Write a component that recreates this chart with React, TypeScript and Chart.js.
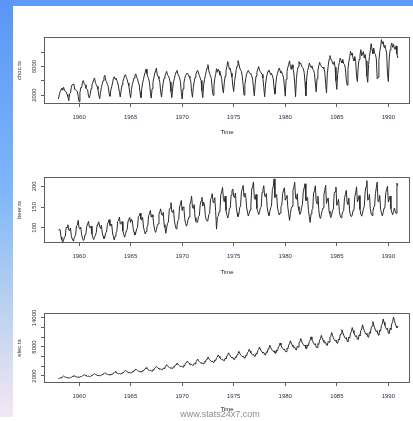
import React, { useEffect, useRef } from 'react';
import { Chart, registerables } from 'chart.js';

Chart.register(...registerables);

// ---- data -----------------------------------------------------------
const START_YEAR = 1958;
const PER_YEAR = 12;
const X_MIN = 1956.6;
const X_MAX = 1992.1;
const YEAR_TICKS = [1960, 1965, 1970, 1975, 1980, 1985, 1990];

const CHOC_TICKS = [2000, 4000, 6000, 8000];
const CHOC_TICK_LABELS = ['2000', '', '6000', ''];
const BEER_TICKS = [100, 150, 200];
const BEER_TICK_LABELS = ['100', '150', '200'];
const ELEC_TICKS = [2000, 4000, 6000, 8000, 10000, 12000, 14000];
const ELEC_TICK_LABELS = ['2000', '', '', '8000', '', '', '14000'];

const CHOC = [
  1451, 2037, 2477, 2785, 2994, 2681, 3098, 2708, 2517, 2445, 2087, 1801,
  1216, 2173, 2286, 3121, 3458, 3511, 3524, 2767, 2744, 2603, 2527, 1846,
  1066, 2327, 3066, 3048, 3806, 4042, 3583, 3438, 2957, 2885, 2744, 1837,
  1596, 2104, 2919, 3469, 3717, 4181, 4406, 3773, 3463, 3237, 2826, 2001,
  1490, 2388, 3031, 3586, 4020, 4510, 4780, 4082, 3855, 3489, 3225, 2202,
  1839, 2718, 3162, 3698, 4348, 4573, 4241, 4367, 4063, 3715, 3133, 2371,
  1728, 2668, 3410, 3878, 4280, 4725, 4862, 4447, 4190, 3688, 3312, 2352,
  1617, 2780, 3471, 3921, 4392, 4775, 4985, 4518, 4286, 3818, 3411, 2389,
  1649, 2937, 3715, 4230, 4789, 5212, 5651, 5001, 4581, 4287, 3721, 2412,
  1583, 2896, 3777, 4375, 4991, 5389, 5798, 4826, 4609, 4329, 3819, 2450,
  1725, 2914, 3728, 4373, 4713, 5052, 5327, 4787, 4688, 4373, 3833, 2502,
  1650, 2980, 3870, 4360, 4890, 5240, 5460, 4980, 4700, 4430, 3870, 2400,
  1450, 2880, 3680, 4300, 4770, 4950, 5100, 4900, 4650, 4350, 3950, 2500,
  1700, 3080, 3850, 4480, 4930, 5280, 5500, 5100, 4750, 4400, 4050, 2600,
  1650, 3400, 4150, 4750, 5300, 5800, 6270, 5450, 5000, 4700, 4300, 2900,
  1980, 3350, 4350, 4900, 5700, 5200, 5650, 5350, 4800, 4850, 4300, 3000,
  2300, 3700, 4650, 5450, 5900, 6700, 6300, 5600, 5750, 5100, 4550, 3300,
  2500, 3900, 4700, 5600, 6100, 6830, 6400, 5800, 5500, 5350, 4600, 3400,
  2000, 3500, 4300, 4900, 5300, 5460, 5150, 5050, 4950, 4700, 4250, 3000,
  1900, 3600, 4650, 5200, 5600, 6000, 5500, 5300, 5100, 4900, 4400, 3100,
  1760, 3400, 4400, 4950, 5350, 5500, 5200, 4850, 5050, 4700, 4300, 3000,
  2140, 3600, 4600, 5050, 5500, 5800, 5400, 5100, 5200, 4850, 4450, 3200,
  1850, 4200, 5300, 5900, 6300, 6800, 6000, 5600, 6250, 5750, 5100, 3700,
  1760, 4300, 5400, 5950, 6700, 6350, 6500, 6050, 5900, 5700, 5200, 3800,
  1900, 4400, 5450, 5800, 6500, 6200, 5900, 6100, 5600, 5500, 5050, 3700,
  2460, 4300, 5400, 6100, 6600, 6250, 6050, 5850, 5900, 5700, 5250, 3600,
  2300, 5000, 6100, 7000, 7540, 7100, 6900, 6400, 6300, 6700, 5900, 4000,
  2800, 4900, 6000, 6600, 7200, 6800, 6500, 7000, 6400, 6300, 5700, 4200,
  3400, 5600, 6700, 7300, 8140, 7600, 7900, 7100, 6800, 7400, 6700, 4600,
  3900, 6100, 7000, 7600, 8380, 7500, 7900, 8100, 7200, 7700, 6800, 4700,
  3800, 6300, 7400, 8200, 9220, 8400, 7800, 8600, 7900, 7700, 7100, 4300,
  4500, 6900, 8100, 8800, 9780, 9200, 9500, 8700, 9000, 8400, 7900, 5000,
  3900, 7100, 8300, 8900, 9300, 8700, 9100, 8600, 8400, 8900, 7800, 7200,
];

const BEER = [
  93.2, 96.0, 95.2, 77.1, 70.9, 64.8, 70.1, 77.3, 79.5, 100.6, 100.7, 107.1,
  94.1, 92.8, 99.5, 80.4, 73.0, 68.3, 74.2, 78.6, 82.7, 104.5, 106.2, 117.8,
  99.1, 97.5, 101.3, 83.2, 74.6, 69.1, 71.9, 83.5, 86.4, 103.7, 108.9, 115.2,
  101.2, 99.6, 104.0, 84.5, 76.9, 71.3, 76.8, 81.2, 88.0, 106.4, 110.7, 114.3,
  102.8, 98.3, 106.1, 86.9, 79.3, 73.4, 77.0, 87.6, 89.2, 108.1, 113.5, 119.4,
  105.6, 104.2, 108.7, 87.1, 78.0, 70.2, 79.5, 88.9, 90.6, 115.3, 117.8, 125.8,
  108.4, 110.9, 114.6, 92.3, 84.1, 77.0, 83.5, 92.1, 95.7, 116.4, 121.6, 124.8,
  112.7, 120.3, 116.2, 97.8, 89.1, 82.4, 87.2, 96.9, 99.8, 126.7, 128.4, 134.9,
  120.4, 118.6, 124.7, 101.3, 92.8, 84.9, 90.6, 101.7, 104.3, 129.9, 133.2, 141.8,
  125.6, 131.2, 125.9, 106.4, 95.1, 88.7, 94.8, 105.2, 109.3, 132.5, 138.7, 145.6,
  131.4, 129.8, 136.9, 107.3, 100.2, 86.5, 99.7, 110.5, 113.6, 143.2, 147.8, 160.4,
  138.2, 136.7, 143.5, 115.8, 105.6, 97.2, 104.4, 116.9, 119.3, 150.1, 156.6, 165.8,
  141.5, 150.3, 148.2, 121.6, 110.7, 103.5, 109.9, 120.3, 125.8, 156.4, 162.7, 176.2,
  149.5, 146.2, 155.8, 124.1, 115.3, 112.6, 113.4, 126.8, 128.4, 155.3, 164.9, 173.5,
  152.1, 161.7, 154.9, 129.3, 119.2, 116.3, 118.7, 131.6, 133.8, 168.2, 172.4, 182.3,
  160.8, 165.4, 172.6, 139.2, 96.5, 125.7, 127.6, 138.3, 142.7, 180.1, 186.2, 197.3,
  170.3, 162.8, 176.4, 142.1, 131.5, 123.4, 129.7, 145.2, 147.8, 178.6, 189.1, 193.4,
  176.2, 172.1, 183.5, 149.7, 135.2, 126.8, 133.0, 148.3, 152.6, 186.9, 194.3, 202.1,
  174.8, 183.6, 177.4, 150.2, 137.9, 128.1, 134.6, 142.5, 155.3, 193.7, 199.1, 210.4,
  171.5, 168.2, 180.4, 146.3, 139.6, 131.7, 136.4, 147.9, 149.8, 185.3, 192.6, 201.5,
  176.8, 174.3, 182.5, 148.6, 136.1, 129.4, 138.2, 148.5, 152.9, 192.4, 198.6, 217.9,
  173.2, 175.7, 180.1, 147.4, 139.3, 130.6, 135.5, 151.2, 154.7, 182.4, 190.8, 196.3,
  166.4, 171.9, 178.2, 149.3, 133.8, 117.6, 134.1, 146.5, 151.3, 190.2, 196.7, 209.8,
  172.1, 168.6, 182.0, 150.9, 141.7, 132.2, 135.6, 149.1, 156.4, 188.3, 196.1, 206.2,
  165.3, 170.8, 173.4, 141.2, 126.9, 112.7, 133.5, 142.8, 145.9, 183.6, 189.4, 201.3,
  164.9, 157.6, 176.2, 143.8, 126.5, 122.4, 131.7, 141.3, 147.7, 178.8, 190.5, 202.6,
  158.4, 167.3, 171.8, 139.6, 133.2, 124.5, 130.3, 142.6, 144.1, 183.4, 187.2, 198.2,
  153.9, 160.6, 168.5, 138.7, 128.3, 124.1, 131.2, 138.5, 141.9, 172.6, 180.4, 190.3,
  159.7, 156.4, 171.6, 137.9, 130.5, 126.7, 130.8, 141.7, 143.4, 176.2, 183.9, 198.6,
  162.3, 167.9, 177.5, 144.3, 132.6, 127.8, 135.2, 145.7, 151.6, 186.3, 199.4, 213.8,
  166.5, 168.3, 180.6, 146.2, 133.1, 129.5, 139.3, 149.6, 152.3, 182.7, 196.8, 210.4,
  163.2, 165.7, 177.9, 143.6, 135.8, 128.4, 136.7, 147.3, 149.5, 184.6, 192.5, 200.2,
  161.8, 169.3, 176.4, 145.7, 137.2, 131.5, 138.6, 147.4, 139.8, 134.6, 207.5, 201.3,
];

const ELEC = [
  1497, 1463, 1648, 1595, 1777, 1824, 1994, 1835, 1787, 1699, 1633, 1645,
  1590, 1570, 1745, 1700, 1890, 1930, 2090, 1975, 1880, 1815, 1750, 1795,
  1750, 1735, 1905, 1875, 2065, 2130, 2290, 2165, 2075, 1985, 1935, 1975,
  1890, 1870, 2060, 2025, 2240, 2300, 2470, 2345, 2235, 2150, 2085, 2130,
  2050, 2030, 2235, 2190, 2425, 2495, 2680, 2540, 2425, 2330, 2260, 2305,
  2215, 2195, 2420, 2370, 2620, 2700, 2900, 2745, 2620, 2520, 2445, 2495,
  2430, 2400, 2650, 2595, 2870, 2955, 3175, 3010, 2870, 2760, 2675, 2730,
  2645, 2605, 2885, 2815, 3125, 3205, 3455, 3265, 3120, 3005, 2905, 2975,
  2850, 2820, 3110, 3045, 3370, 3465, 3725, 3530, 3370, 3240, 3145, 3210,
  3060, 3030, 3340, 3270, 3620, 3725, 4000, 3795, 3620, 3480, 3375, 3445,
  3310, 3270, 3610, 3535, 3910, 4025, 4325, 4100, 3910, 3760, 3645, 3720,
  3590, 3550, 3915, 3835, 4245, 4365, 4690, 4445, 4245, 4080, 3960, 4040,
  3900, 3855, 4255, 4165, 4605, 4740, 5095, 4830, 4605, 4430, 4295, 4385,
  4205, 4160, 4590, 4495, 4970, 5115, 5500, 5210, 4970, 4780, 4635, 4730,
  4530, 4480, 4945, 4840, 5355, 5510, 5925, 5615, 5355, 5150, 4995, 5100,
  4865, 4810, 5310, 5200, 5750, 5915, 6360, 6030, 5750, 5530, 5365, 5475,
  5190, 5135, 5665, 5545, 6135, 6315, 6785, 6430, 6135, 5900, 5725, 5840,
  5440, 5375, 5935, 5810, 6430, 6610, 7105, 6735, 6430, 6180, 5995, 6120,
  5765, 5700, 6290, 6155, 6810, 7010, 7535, 7140, 6810, 6550, 6355, 6485,
  6115, 6045, 6670, 6535, 7230, 7435, 7990, 7575, 7230, 6950, 6740, 6880,
  6405, 6335, 6990, 6845, 7570, 7790, 8370, 7935, 7570, 7280, 7060, 7205,
  6760, 6680, 7375, 7220, 7985, 8220, 8830, 8370, 7985, 7680, 7450, 7605,
  7110, 7030, 7755, 7595, 8405, 8645, 9290, 8805, 8405, 8080, 7840, 8000,
  7460, 7380, 8140, 7970, 8820, 9075, 9750, 9245, 8820, 8480, 8225, 8395,
  7725, 7640, 8430, 8255, 9130, 9395, 10095, 9570, 9130, 8780, 8515, 8690,
  7965, 7875, 8690, 8505, 9410, 9685, 10405, 9865, 9410, 9050, 8780, 8960,
  8405, 8310, 9170, 8975, 9930, 10220, 10980, 10410, 9930, 9550, 9265, 9455,
  8845, 8745, 9650, 9445, 10450, 10755, 11560, 10955, 10450, 10050, 9750, 9950,
  9195, 9090, 10030, 9825, 10870, 11180, 12020, 11390, 10870, 10450, 10135, 10345,
  9635, 9525, 10510, 10295, 11390, 11715, 12590, 11935, 11390, 10950, 10620, 10840,
  10120, 10005, 11040, 10810, 11960, 12305, 13225, 12535, 11960, 11500, 11155, 11385,
  10560, 10440, 11520, 11280, 12480, 12840, 13800, 13080, 12480, 12000, 11640, 11880,
  10870, 10745, 11855, 11610, 12845, 13215, 14205, 13460, 12845, 12350, 11980, 12225,
];

// ---- layout / style ---------------------------------------------------
const FONT = '"Liberation Sans", Arial, sans-serif';
const W = 413;

type Panel = {
  title: string;
  values: number[];
  ticks: number[];
  tickLabels: string[];
  yMin: number;
  yMax: number;
  top: number;
  height: number;
  padTop: number;
  padBottom: number;
  xAxisH: number;
};

const PANELS: Panel[] = [
  { title: 'choc.ts', values: CHOC, ticks: CHOC_TICKS, tickLabels: CHOC_TICK_LABELS, yMin: 750, yMax: 10150, top: 0, height: 140, padTop: 37, padBottom: 4, xAxisH: 32 },
  { title: 'beer.ts', values: BEER, ticks: BEER_TICKS, tickLabels: BEER_TICK_LABELS, yMin: 63, yMax: 222.5, top: 140, height: 140, padTop: 37, padBottom: 4, xAxisH: 33 },
  { title: 'elec.ts', values: ELEC, ticks: ELEC_TICKS, tickLabels: ELEC_TICK_LABELS, yMin: 550, yMax: 15030, top: 280, height: 141, padTop: 33, padBottom: 8, xAxisH: 30 },
];

function TsPanel({ p }: { p: Panel }) {
  const ref = useRef<HTMLCanvasElement | null>(null);
  useEffect(() => {
    if (!ref.current) return;
    const points = p.values.map((v, i) => ({ x: START_YEAR + i / PER_YEAR, y: v }));

    const boxPlugin = {
      id: 'rbox',
      afterDraw(chart: any) {
        const { ctx, chartArea } = chart;
        ctx.save();
        ctx.strokeStyle = '#5e5e5e';
        ctx.lineWidth = 1;
        const l = Math.round(chartArea.left) + 0.5;
        const t = Math.round(chartArea.top) + 0.5;
        const r = Math.round(chartArea.right) - 0.5;
        const b = Math.round(chartArea.bottom) - 0.5;
        ctx.strokeRect(l, t, r - l, b - t);
        ctx.restore();
      },
    };

    const yLabelPlugin = {
      id: 'rylabels',
      afterDraw(chart: any) {
        const { ctx, chartArea, scales } = chart;
        const ys = scales.y;
        ctx.save();
        ctx.font = `6px ${FONT}`;
        ctx.fillStyle = '#3a2c34';
        ctx.textAlign = 'center';
        ctx.textBaseline = 'middle';
        p.ticks.forEach((v, i) => {
          const lab = p.tickLabels[i];
          if (!lab) return;
          const y = ys.getPixelForValue(v);
          ctx.save();
          ctx.translate(chartArea.left - 10, y);
          ctx.rotate(-Math.PI / 2);
          ctx.fillText(lab, 0, 0);
          ctx.restore();
        });
        ctx.restore();
      },
    };

    const chart = new Chart(ref.current, {
      type: 'line',
      data: {
        datasets: [
          {
            data: points,
            borderColor: '#2a2a2a',
            borderWidth: 1,
            pointRadius: 0,
            fill: false,
            tension: 0,
          },
        ],
      },
      options: {
        animation: false,
        responsive: false,
        maintainAspectRatio: false,
        events: [],
        layout: { padding: { left: 13, right: 3, top: p.padTop, bottom: p.padBottom } },
        plugins: { legend: { display: false }, tooltip: { enabled: false } },
        scales: {
          x: {
            type: 'linear',
            min: X_MIN,
            max: X_MAX,
            afterBuildTicks: (s: any) => {
              s.ticks = YEAR_TICKS.map((v) => ({ value: v }));
            },
            afterFit: (s: any) => {
              s.height = p.xAxisH;
            },
            ticks: {
              autoSkip: false,
              maxRotation: 0,
              minRotation: 0,
              padding: 7,
              color: '#27324a',
              font: { family: FONT, size: 6 },
              callback: (v: any) => String(v),
            },
            grid: { drawOnChartArea: false, drawTicks: true, tickLength: 3, color: '#5e5e5e' },
            border: { display: false },
            title: { display: true, text: 'Time', color: '#222', font: { family: FONT, size: 6 }, padding: 0 },
          },
          y: {
            type: 'linear',
            min: p.yMin,
            max: p.yMax,
            afterBuildTicks: (s: any) => {
              s.ticks = p.ticks.map((v) => ({ value: v }));
            },
            afterFit: (s: any) => {
              s.width = 31;
            },
            ticks: { display: false },
            grid: { drawOnChartArea: false, drawTicks: true, tickLength: 3, color: '#5e5e5e' },
            border: { display: false },
            title: { display: true, text: p.title, color: '#3a2c34', font: { family: FONT, size: 6 }, padding: { top: 2.4, bottom: 0 } },
          },
        },
      },
      plugins: [boxPlugin, yLabelPlugin],
    } as any);
    return () => chart.destroy();
  }, [p]);

  return (
    <canvas
      ref={ref}
      width={W}
      height={p.height}
      style={{ position: 'absolute', left: 0, top: p.top, width: W, height: p.height }}
    />
  );
}

export default function App() {
  return (
    <div style={{ position: 'fixed', left: 0, top: 0, width: W, height: 421, background: '#fff', overflow: 'hidden' }}>
      <div style={{ position: 'absolute', left: 0, top: 0, width: W, height: 6, background: '#5d9bfb' }} />
      <div
        style={{
          position: 'absolute',
          left: 0,
          top: 0,
          width: 13,
          height: 417,
          background: 'linear-gradient(to bottom, #5a95f6 0%, #7db6fb 45%, #b7d0ef 72%, #f4e7f4 100%)',
        }}
      />
      {PANELS.map((p) => (
        <TsPanel key={p.title} p={p} />
      ))}
      <div
        style={{
          position: 'absolute',
          left: 0,
          top: 409,
          width: 440,
          textAlign: 'center',
          font: `9px ${FONT}`,
          lineHeight: '11px',
          color: '#8c8c8c',
        }}
      >
        www.stats24x7.com
      </div>
    </div>
  );
}
